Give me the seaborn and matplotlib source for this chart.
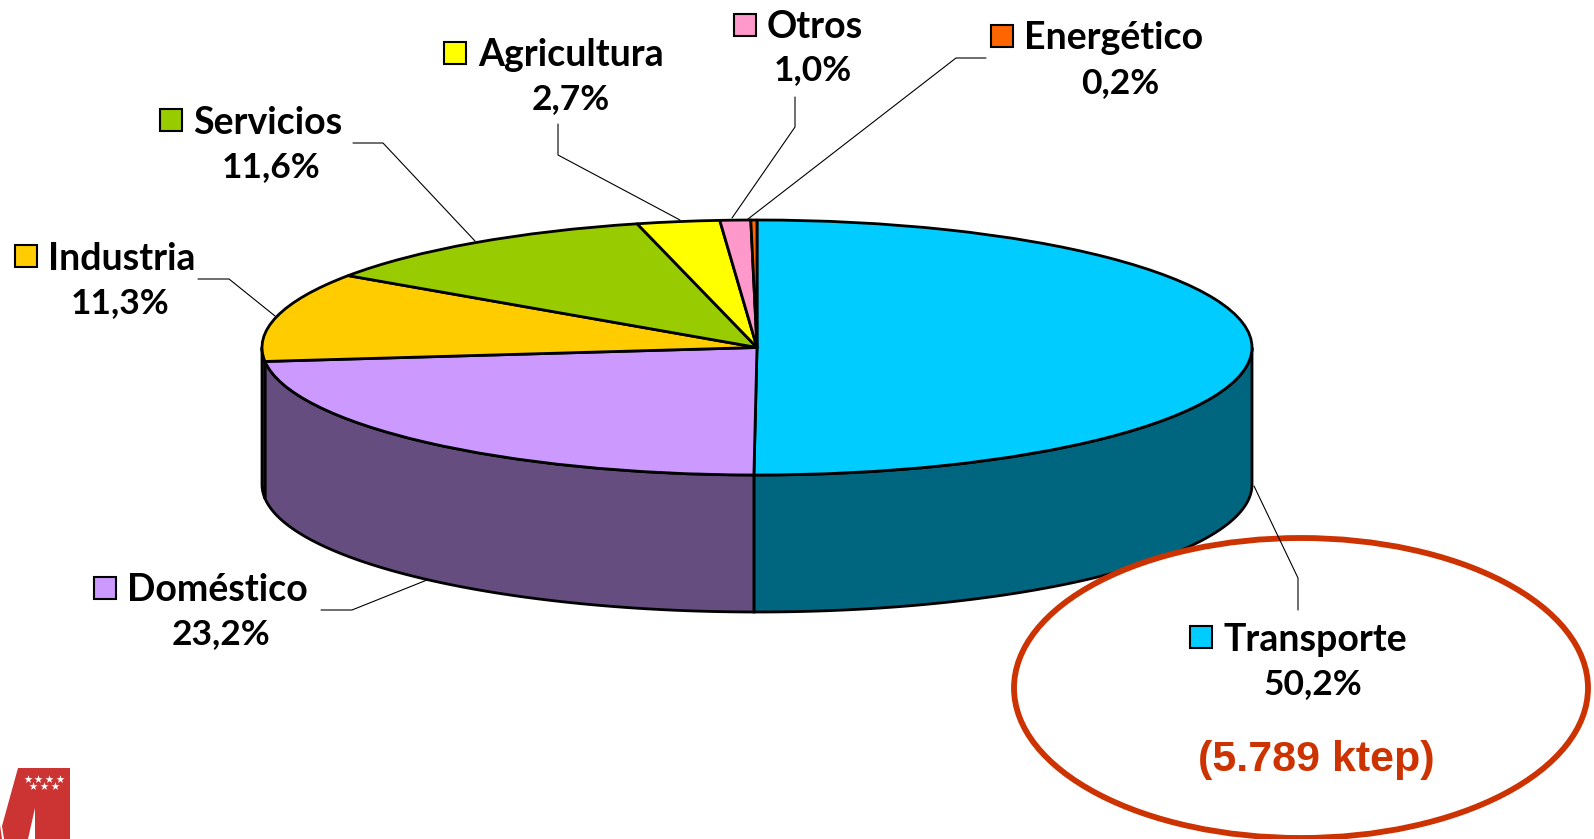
import numpy as np
import matplotlib
matplotlib.use("Agg")
import matplotlib.pyplot as plt
from matplotlib.patches import Ellipse, Rectangle, Polygon
import seaborn as sns

# Data
categories = ["Transporte", "Doméstico", "Industria", "Servicios", "Agricultura", "Otros", "Energético"]
shares = [50.2, 23.2, 11.3, 11.6, 2.7, 1.0, 0.2]
share_labels = ["50,2%", "23,2%", "11,3%", "11,6%", "2,7%", "1,0%", "0,2%"]
callout = "(5.789 ktep)"

# Style
palette = ["#00CCFF", "#CC99FF", "#FFCC00", "#99CC00", "#FFFF00", "#FF99CC", "#FF6600"]
W, H = 1594, 839
CX, CY, RX, RY, DEPTH = 757.0, 347.5, 495.0, 127.5, 137.0
FONT = "Lato"
FS_NAME = 27
FS_VALUE = 25.5

# Label layout in pixels: key left, key top, text left, name y, value centre x, value y
layout = {
    "Transporte": (1190, 626, 1224, 640, 1313, 684),
    "Doméstico": (94, 577, 127, 590, 221, 634),
    "Industria": (15, 245, 48, 259, 120, 303),
    "Servicios": (160, 109, 193, 123, 271, 167),
    "Agricultura": (444, 42, 478, 55, 571, 99),
    "Otros": (734, 14, 767, 27, 813, 70),
    "Energético": (991, 25, 1024, 38, 1120, 83),
}
leaders = {
    "Transporte": [(1298, 610), (1298, 578), (1254, 486)],
    "Doméstico": [(321, 610), (352, 610), (427, 580)],
    "Industria": [(198, 279), (229, 279), (275, 316)],
    "Servicios": [(353, 143), (383, 143), (475, 241)],
    "Agricultura": [(558, 124), (558, 155), (680, 220)],
    "Otros": [(795, 97), (795, 127), (732, 218)],
    "Energético": [(986, 58), (956, 58), (748, 219)],
}

sns.set_theme(style="white")
plt.rcParams["font.family"] = [FONT, "DejaVu Sans"]
fig = plt.figure(figsize=(W / 100, H / 100), dpi=100, facecolor="white")

# Pie on an axes whose data units are stretched to the ellipse
ax = fig.add_axes([0, 0, 1, 1])
wedges, _ = ax.pie(shares, colors=palette, startangle=90, counterclock=False, radius=1,
                   wedgeprops=dict(edgecolor="black", linewidth=2.0, joinstyle="round"))
ax.set_aspect("auto")
ax.set_xlim((0 - CX) / RX, (W - CX) / RX)
ax.set_ylim((CY - H) / RY, (CY - 0) / RY)
ax.axis("off")

# Pie wall: the front part of each wedge, extruded downwards
for w, c in zip(wedges, palette):
    a0, a1 = max(w.theta1, -180), min(w.theta2, 0)
    if a1 <= a0:
        continue
    t = np.radians(np.linspace(a0, a1, 120))
    xs, ys = np.cos(t), np.sin(t)
    dy = DEPTH / RY
    pts = np.r_[np.c_[xs, ys], np.c_[xs[::-1], ys[::-1] - dy]]
    dark = tuple(0.5 * v for v in matplotlib.colors.to_rgb(c))
    ax.add_patch(Polygon(pts, closed=True, facecolor=dark, edgecolor="black",
                         linewidth=2.0, zorder=0.5))

# Overlay in reference pixels for labels, leaders and callout
ov = fig.add_axes([0, 0, 1, 1], zorder=5)
ov.set_xlim(0, W)
ov.set_ylim(H, 0)
ov.axis("off")
ov.patch.set_alpha(0)

ov.add_patch(Ellipse((1301, 688), 574, 300, facecolor="white", edgecolor="#CC3300", linewidth=4.2, zorder=2))

for name, value, c in zip(categories, share_labels, palette):
    kx, ky, tx, ty, vx, vy = layout[name]
    ov.add_patch(Rectangle((kx, ky), 22, 22, facecolor=c, edgecolor="black", linewidth=1.5, zorder=4))
    ov.text(tx, ty, name, fontsize=FS_NAME, fontweight="bold", ha="left", va="center", color="black", zorder=4)
    ov.text(vx, vy, value, fontsize=FS_VALUE, fontweight="bold", ha="center", va="center", color="black", zorder=4)
    px, py = zip(*leaders[name])
    ov.plot(px, py, color="black", lw=0.8, zorder=3)

ov.text(1316, 760, callout, fontsize=31, fontweight="bold", family="Liberation Sans",
        color="#CC3300", ha="center", va="center", zorder=4)

# Regional emblem
red = "#CC3333"
ov.add_patch(Polygon([(18, 768), (70, 768), (70, 839), (35, 839), (35, 808), (28, 839), (4, 839), (2, 826)],
                     closed=True, facecolor=red, edgecolor="none", zorder=4))
ov.add_patch(Polygon([(0, 825), (2, 839), (0, 839)], closed=True, facecolor=red, edgecolor="none", zorder=4))
star_x = [28, 38, 49, 60, 33, 44, 55]
star_y = [779, 779, 779, 779, 786, 786, 786]
ov.scatter(star_x, star_y, marker="*", s=38, color="white", linewidths=0, zorder=5)

fig.savefig("out.png", dpi=100, facecolor="white")
